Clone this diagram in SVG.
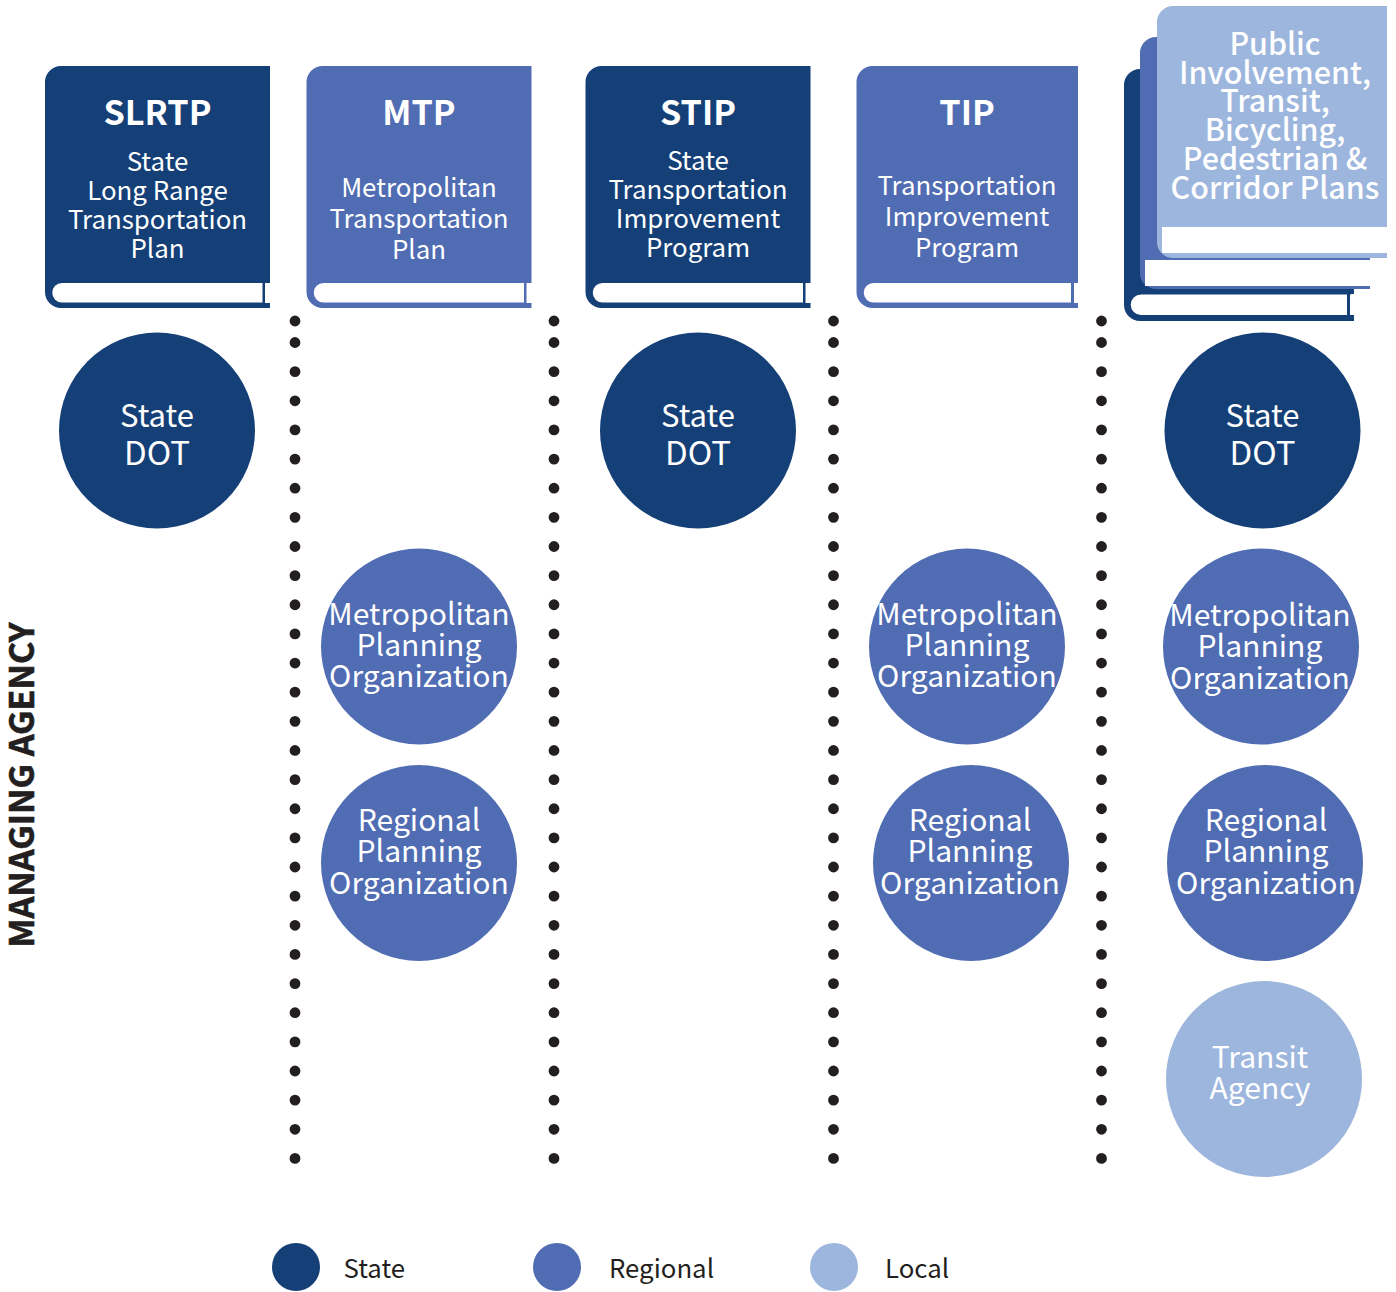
<svg xmlns="http://www.w3.org/2000/svg" width="1396" height="1292" viewBox="0 0 1396 1292">
<style>
text{font-family:"Noto Sans CJK SC","Source Sans Pro","Noto Sans",sans-serif;text-anchor:middle;fill:#fff}
.t{font-size:34.200px;font-weight:700}
.s{font-size:25.850px}
.c{font-size:31px}
.d{font-size:33px}
.o{font-size:30.100px}
.p{font-size:30.400px;font-weight:500}
.l{font-size:25.800px;fill:#231f20;text-anchor:start}
.dk{fill:#153f77}.md{fill:#506cb3}.lt{fill:#9db6dd}
.dots{fill:none;stroke:#231f20;stroke-width:10.800;stroke-linecap:round;stroke-dasharray:0 29.14}
</style>
<defs>
<g id="book">
<path d="M225 0H16A16 16 0 0 0 0 16V226A16 16 0 0 0 16 242H225V237H220V217H225Z"/>
<path fill="#fff" d="M17 217H217.500V236.500H17A9.750 9.750 0 0 1 17 217Z"/>
<rect x="221" y="217" width="4" height="20" fill="#fff"/>
</g>
</defs>
<g id="separators">
<path class="dots" d="M295 342.500V1170"/>
<path class="dots" d="M554 342.500V1170"/>
<path class="dots" d="M833.500 342.500V1170"/>
<path class="dots" d="M1101.500 342.500V1170"/>
<path class="dots" style="stroke-dasharray:none" d="M295 321h0M554 321h0M833.500 321h0M1101.500 321h0"/>
</g>
<g id="book-slrtp"><use href="#book" x="45" y="66" class="dk"/>
<text class="t" x="157.500" y="125">SLRTP</text>
<text class="s" x="157.500" y="171">State</text><text class="s" x="157.500" y="200">Long Range</text><text class="s" x="157.500" y="229">Transportation</text><text class="s" x="157.500" y="258">Plan</text></g>
<g id="book-mtp"><use href="#book" x="306.500" y="66" class="md"/>
<text class="t" x="419" y="125">MTP</text>
<text class="s" x="419" y="197">Metropolitan</text><text class="s" x="419" y="228">Transportation</text><text class="s" x="419" y="259">Plan</text></g>
<g id="book-stip"><use href="#book" x="585.500" y="66" class="dk"/>
<text class="t" x="698" y="125">STIP</text>
<text class="s" x="698" y="170">State</text><text class="s" x="698" y="199">Transportation</text><text class="s" x="698" y="228">Improvement</text><text class="s" x="698" y="257">Program</text></g>
<g id="book-tip"><path class="md" d="M1078 66H872.500A16 16 0 0 0 856.500 82V292A16 16 0 0 0 872.500 308H1078V303H1074V283H1078Z"/><path fill="#fff" d="M873.500 283H1071V302.500H873.500A9.750 9.750 0 0 1 873.500 283Z"/><rect x="1075" y="283" width="3" height="20" fill="#fff"/>
<text class="t" x="967" y="125">TIP</text>
<text class="s" x="967" y="195">Transportation</text><text class="s" x="967" y="226">Improvement</text><text class="s" x="967" y="257">Program</text></g>
<g id="book-stack">
<path class="dk" d="M1354 69H1140A16 16 0 0 0 1124 85V305A16 16 0 0 0 1140 321H1354V315H1350V294.500H1354Z"/>
<path fill="#fff" d="M1141 294.500H1347V315H1141A10.250 10.250 0 0 1 1141 294.500Z"/><rect x="1351" y="294" width="3" height="21" fill="#fff"/>
<path class="md" d="M1370 37H1156A16 16 0 0 0 1140 53V273A16 16 0 0 0 1156 289H1370V286H1145V260H1370Z"/>
<rect x="1145" y="260" width="225" height="26" fill="#fff"/>
<path class="lt" d="M1387 6H1173A16 16 0 0 0 1157 22V242A16 16 0 0 0 1173 258H1387V253H1162V227H1387Z"/>
<rect x="1162" y="227" width="225" height="26" fill="#fff"/>
<text class="p" x="1275" y="55">Public</text><text class="p" x="1275" y="84">Involvement,</text><text class="p" x="1275" y="112">Transit,</text><text class="p" x="1275" y="141">Bicycling,</text><text class="p" x="1275" y="170">Pedestrian &amp;</text><text class="p" x="1275" y="199">Corridor Plans</text>
</g>
<g id="dot-1"><circle cx="157" cy="430.500" r="98" class="dk"/><text class="c" x="157" y="427">State</text><text class="d" x="157" y="465">DOT</text></g>
<g id="dot-2"><circle cx="698" cy="430.500" r="98" class="dk"/><text class="c" x="698" y="427">State</text><text class="d" x="698" y="465">DOT</text></g>
<g id="dot-3"><circle cx="1262.500" cy="430.500" r="98" class="dk"/><text class="c" x="1262.500" y="427">State</text><text class="d" x="1262.500" y="465">DOT</text></g>
<g id="mpo-1"><circle cx="419" cy="646.500" r="98" class="md"/><text class="o" x="419" y="625">Metropolitan</text><text class="o" x="419" y="656">Planning</text><text class="o" x="419" y="687">Organization</text></g>
<g id="mpo-2"><circle cx="967" cy="646.500" r="98" class="md"/><text class="o" x="967" y="625">Metropolitan</text><text class="o" x="967" y="656">Planning</text><text class="o" x="967" y="687">Organization</text></g>
<g id="mpo-3"><circle cx="1261" cy="646.500" r="98" class="md"/><text class="o" x="1260" y="626">Metropolitan</text><text class="o" x="1260" y="657">Planning</text><text class="o" x="1260" y="689">Organization</text></g>
<g id="rpo-1"><circle cx="419" cy="863" r="98" class="md"/><text class="o" x="419" y="831">Regional</text><text class="o" x="419" y="862">Planning</text><text class="o" x="419" y="894">Organization</text></g>
<g id="rpo-2"><circle cx="971" cy="863" r="98" class="md"/><text class="o" x="970" y="831">Regional</text><text class="o" x="970" y="862">Planning</text><text class="o" x="970" y="894">Organization</text></g>
<g id="rpo-3"><circle cx="1265" cy="863" r="98" class="md"/><text class="o" x="1266" y="831">Regional</text><text class="o" x="1266" y="862">Planning</text><text class="o" x="1266" y="894">Organization</text></g>
<g id="transit"><circle cx="1264" cy="1079" r="98" class="lt"/><text class="o" x="1260" y="1068">Transit</text><text class="o" x="1260" y="1099">Agency</text></g>
<g id="axis-label"><text transform="translate(34 785) rotate(-90)" font-size="34.100" font-weight="700" style="fill:#231f20;stroke:#231f20;stroke-width:.6">MANAGING AGENCY</text></g>
<g id="legend-state"><circle cx="296" cy="1267" r="24" class="dk"/><text class="l" x="343.500" y="1278">State</text></g>
<g id="legend-regional"><circle cx="557" cy="1267" r="24" class="md"/><text class="l" x="609" y="1278">Regional</text></g>
<g id="legend-local"><circle cx="834" cy="1267" r="24" class="lt"/><text class="l" x="885" y="1278">Local</text></g>
</svg>
